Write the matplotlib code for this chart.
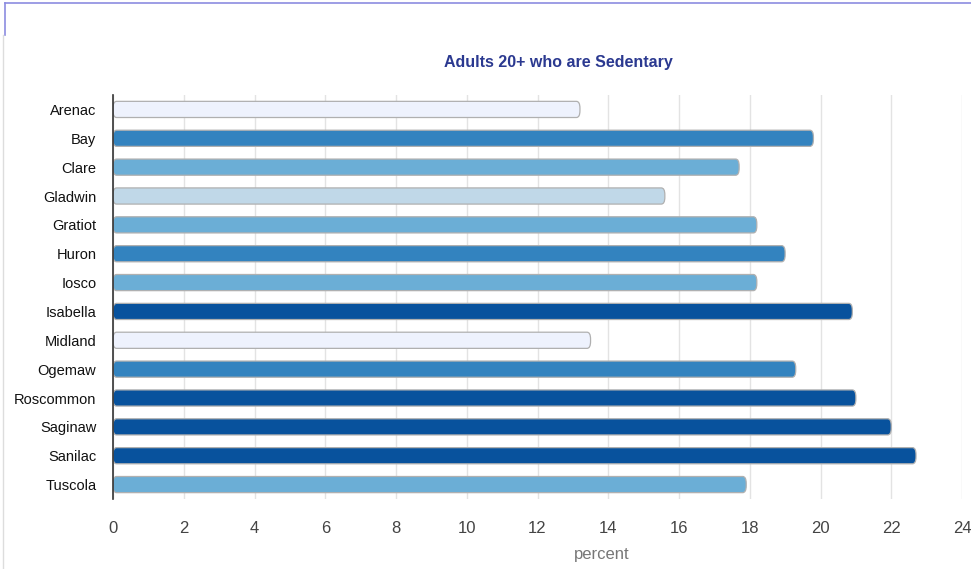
import matplotlib
matplotlib.use("Agg")
import matplotlib.pyplot as plt
from matplotlib.patches import FancyBboxPatch
from matplotlib.lines import Line2D

plt.rcParams["font.family"] = ["Liberation Sans", "DejaVu Sans"]

counties = ["Arenac", "Bay", "Clare", "Gladwin", "Gratiot", "Huron", "Iosco",
            "Isabella", "Midland", "Ogemaw", "Roscommon", "Saginaw", "Sanilac", "Tuscola"]
values = [13.2, 19.8, 17.7, 15.6, 18.2, 19.0, 18.2, 20.9, 13.5, 19.3, 21.0, 22.0, 22.7, 17.9]
colors = ["#eef2fd", "#3383bf", "#6baed6", "#c0d8e8", "#6baed6", "#3383bf", "#6baed6",
          "#08529d", "#eef2fd", "#3383bf", "#08529d", "#08529d", "#08529d", "#6baed6"]
xticks = [0, 2, 4, 6, 8, 10, 12, 14, 16, 18, 20, 22, 24]

W, H = 971, 569
fig = plt.figure(figsize=(W / 100, H / 100), dpi=100)
ax = fig.add_axes([113 / W, 1 - 499 / H, (962 - 113) / W, (499 - 95) / H])

bh = 0.56
for i, (v, c) in enumerate(zip(values, colors)):
    p = FancyBboxPatch((0, i - bh / 2), v, bh,
                       boxstyle="round,pad=0,rounding_size=0.1",
                       mutation_aspect=2.4,
                       facecolor=c, edgecolor="#b0b0b0", linewidth=0.9, zorder=3)
    ax.add_patch(p)

ax.set_xlim(0, 24)
ax.set_ylim(len(counties) - 0.5, -0.5)
ax.set_yticks(range(len(counties)))
ax.set_yticklabels(counties, fontsize=10.5, color="#111111")
ax.set_xticks(xticks)
ax.set_xticklabels([str(t) for t in xticks], fontsize=12, color="#444444")
ax.tick_params(axis="both", length=0)
ax.tick_params(axis="y", pad=12)
ax.tick_params(axis="x", pad=16)
ax.grid(axis="x", color="#e3e3e3", linewidth=1, zorder=0)
for s in ["top", "right", "bottom"]:
    ax.spines[s].set_visible(False)
ax.spines["left"].set_color("#333333")
ax.spines["left"].set_linewidth(1.2)
ax.spines["left"].set_zorder(4)
ax.set_xlabel("percent", fontsize=12, color="#777777")
ax.xaxis.set_label_coords((602 - 113) / (962 - 113), -(555 - 499) / (499 - 95))
ax.xaxis.label.set_va("center")

fig.text(558 / W, 1 - 63 / H, "Adults 20+ who are Sedentary", ha="center", va="center",
         fontsize=11.5, fontweight="bold", color="#2b3990")

# outer frame lines
fig.add_artist(Line2D([5 / W, 1], [1 - 3 / H, 1 - 3 / H], color="#8c8ce0", linewidth=1.2))
fig.add_artist(Line2D([5 / W, 5 / W], [1 - 3 / H, 1 - 35 / H], color="#8c8ce0", linewidth=1.2))
fig.add_artist(Line2D([3 / W, 3 / W], [1 - 35 / H, 0], color="#dddddd", linewidth=1))

fig.savefig("out.png", dpi=100)
